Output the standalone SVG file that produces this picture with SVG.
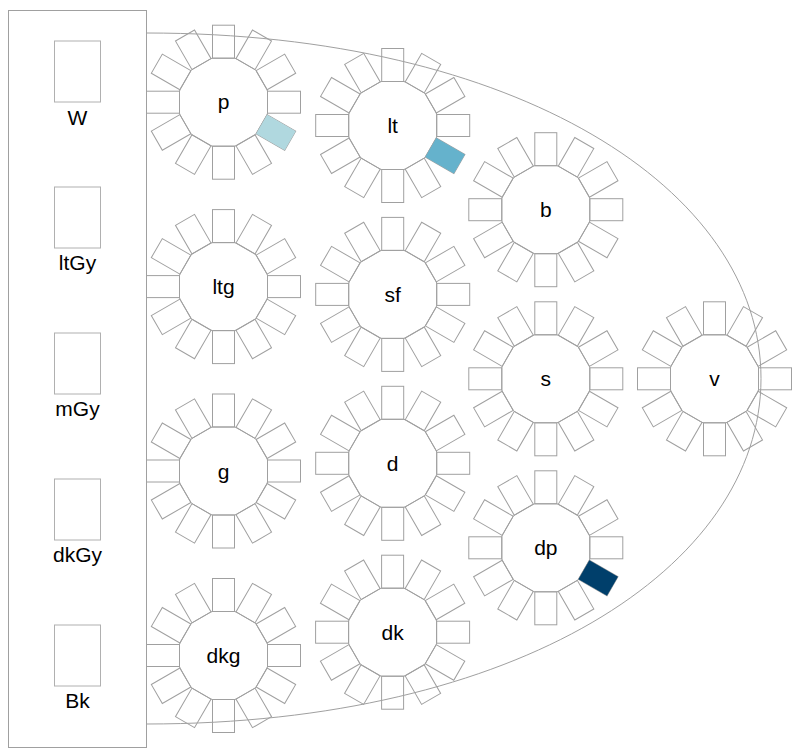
<svg xmlns="http://www.w3.org/2000/svg" xmlns:xlink="http://www.w3.org/1999/xlink" width="800" height="752" viewBox="0 0 800 752">
  <style>
    .ln { fill: none; stroke: #a0a0a0; stroke-width: 1; }
    .top { fill: #ffffff; stroke: #a0a0a0; stroke-width: 1; }
    .sw { fill: #ffffff; stroke: #b0b0b0; stroke-width: 1; }
    .lbl { font-family: "Liberation Sans", Arial, sans-serif; font-size: 21px; fill: #000000; text-anchor: middle; }
  </style>
  <defs>
    <rect id="chair" class="ln" x="-11" y="-77" width="22" height="33"/>
    <g id="table">
      <polygon class="top" points="-11,-44 11,-44 12.474,-43.605 31.526,-32.605 32.605,-31.526 43.605,-12.474 44,-11 44,11 43.605,12.474 32.605,31.526 31.526,32.605 12.474,43.605 11,44 -11,44 -12.474,43.605 -31.526,32.605 -32.605,31.526 -43.605,12.474 -44,11 -44,-11 -43.605,-12.474 -32.605,-31.526 -31.526,-32.605 -12.474,-43.605"/>
      <use xlink:href="#chair"/>
      <use xlink:href="#chair" transform="rotate(30)"/>
      <use xlink:href="#chair" transform="rotate(60)"/>
      <use xlink:href="#chair" transform="rotate(90)"/>
      <use xlink:href="#chair" transform="rotate(120)"/>
      <use xlink:href="#chair" transform="rotate(150)"/>
      <use xlink:href="#chair" transform="rotate(180)"/>
      <use xlink:href="#chair" transform="rotate(210)"/>
      <use xlink:href="#chair" transform="rotate(240)"/>
      <use xlink:href="#chair" transform="rotate(270)"/>
      <use xlink:href="#chair" transform="rotate(300)"/>
      <use xlink:href="#chair" transform="rotate(330)"/>
    </g>
  </defs>
  <rect width="800" height="752" fill="#ffffff"/>

  <g id="legend">
    <rect class="ln" x="8.5" y="10.5" width="138" height="737"/>
    <g id="sw-W"><rect class="sw" x="54.5" y="41" width="46" height="61"/><text class="lbl" x="77.5" y="125">W</text></g>
    <g id="sw-ltGy"><rect class="sw" x="54.5" y="187" width="46" height="61"/><text class="lbl" x="77.5" y="270">ltGy</text></g>
    <g id="sw-mGy"><rect class="sw" x="54.5" y="333" width="46" height="61"/><text class="lbl" x="77.5" y="416">mGy</text></g>
    <g id="sw-dkGy"><rect class="sw" x="54.5" y="479" width="46" height="61"/><text class="lbl" x="77.5" y="562">dkGy</text></g>
    <g id="sw-Bk"><rect class="sw" x="54.5" y="625" width="46" height="61"/><text class="lbl" x="77.5" y="707.5">Bk</text></g>
  </g>

  <g id="connectors">
    <path class="ln" d="M146.5,33 C515.4,33 761,188.5 761,378.5 C761,568.5 515.4,724 146.5,724"/>
  </g>

  <g id="t-p" transform="translate(223.5,102.2)"><use xlink:href="#table"/><rect x="-11" y="-77" width="22" height="33" transform="rotate(120)" fill="#b0d8df"/><text class="lbl" x="0" y="7">p</text></g>
  <g id="t-lt" transform="translate(392.7,125.5)"><use xlink:href="#table"/><rect x="-11" y="-77" width="22" height="33" transform="rotate(120)" fill="#65b2cc"/><text class="lbl" x="0" y="7.5">lt</text></g>
  <g id="t-b" transform="translate(545.8,209.7)"><use xlink:href="#table"/><text class="lbl" x="0" y="7.5">b</text></g>
  <g id="t-ltg" transform="translate(223.5,286.6)"><use xlink:href="#table"/><text class="lbl" x="0" y="7.5">ltg</text></g>
  <g id="t-sf" transform="translate(392.7,294.4)"><use xlink:href="#table"/><text class="lbl" x="0" y="7.5">sf</text></g>
  <g id="t-s" transform="translate(545.8,378.8)"><use xlink:href="#table"/><text class="lbl" x="0" y="7.5">s</text></g>
  <g id="t-v" transform="translate(714.5,378.8)"><use xlink:href="#table"/><text class="lbl" x="0" y="7.5">v</text></g>
  <g id="t-g" transform="translate(223.5,471)"><use xlink:href="#table"/><text class="lbl" x="0" y="7.5">g</text></g>
  <g id="t-d" transform="translate(392.7,463.3)"><use xlink:href="#table"/><text class="lbl" x="0" y="7.5">d</text></g>
  <g id="t-dp" transform="translate(545.8,547.8)"><use xlink:href="#table"/><rect x="-11" y="-77" width="22" height="33" transform="rotate(120)" fill="#003f6b"/><text class="lbl" x="0" y="7.5">dp</text></g>
  <g id="t-dkg" transform="translate(223.5,655.5)"><use xlink:href="#table"/><text class="lbl" x="0" y="7">dkg</text></g>
  <g id="t-dk" transform="translate(392.6,632.2)"><use xlink:href="#table"/><text class="lbl" x="0" y="7.5">dk</text></g>
</svg>
